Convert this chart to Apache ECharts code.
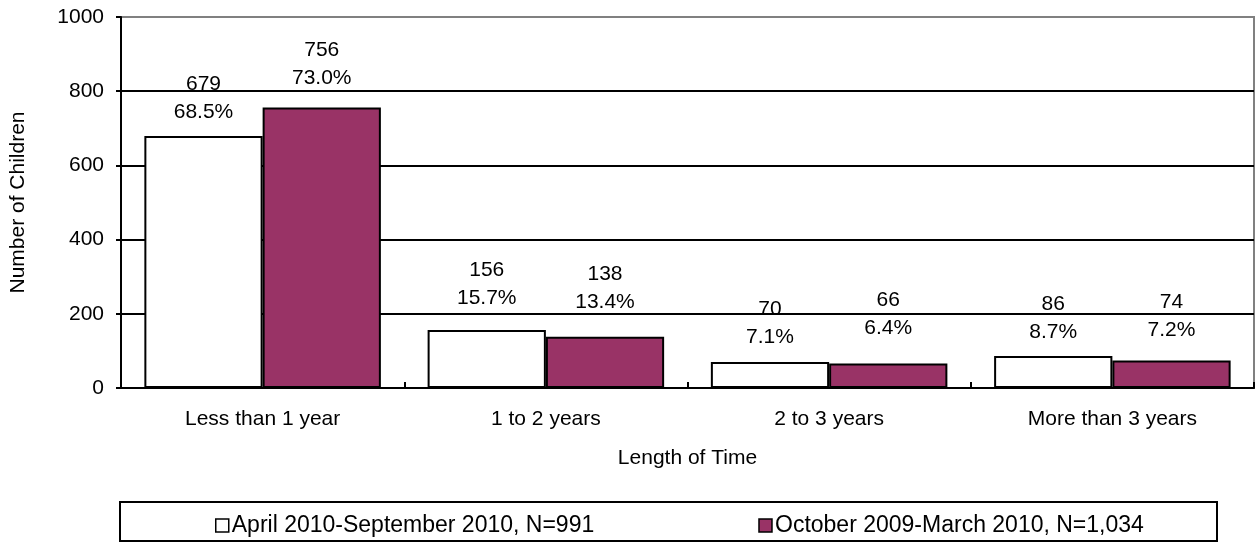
<!DOCTYPE html>
<html>
<head>
<meta charset="utf-8">
<script src="https://cdn.jsdelivr.net/npm/echarts@6/dist/echarts.min.js"></script>
<style>
  html, body { margin: 0; padding: 0; background: #fff; }
  #chart { width: 1256px; height: 542px; }
</style>
</head>
<body>
<div id="chart"></div>
<script>
// Length of time categories
const categories = ['Less than 1 year', '1 to 2 years', '2 to 3 years', 'More than 3 years'];

// Counts of children per period
const april2010Counts = [679, 156, 70, 86];
const oct2009Counts = [756, 138, 66, 74];

// Share of each period's total, in percent
const april2010Pct = [68.5, 15.7, 7.1, 8.7];
const oct2009Pct = [73.0, 13.4, 6.4, 7.2];

const seriesNames = ['April 2010-September 2010, N=991', 'October 2009-March 2010, N=1,034'];
const yTicks = [0, 200, 400, 600, 800, 1000];

// Distance between each bar top and its two-line label
const aprilLabelLift = [10, 18, 11, 10];
const octLabelLift = [15, 21, 21, 16];

const FONT = '"Liberation Sans", Arial, sans-serif';
const MAROON = '#993366';
const FS = 21;

function buildSeries(name, counts, pcts, lifts, fill) {
  return {
    name: name,
    type: 'bar',
    barGap: '0%',
    barCategoryGap: '16.5%',
    itemStyle: { color: fill, borderColor: '#000', borderWidth: 2 },
    data: counts.map((v, i) => ({
      value: v,
      label: { distance: lifts[i] }
    })),
    label: {
      show: true,
      position: 'top',
      color: '#000',
      fontFamily: FONT,
      fontSize: FS,
      lineHeight: 28,
      formatter: p => p.value + '\n' + pcts[p.dataIndex].toFixed(1) + '%'
    },
    emphasis: { disabled: true }
  };
}

const chart = echarts.init(document.getElementById('chart'), null, { renderer: 'canvas' });

chart.setOption({
  animation: false,
  backgroundColor: '#fff',
  textStyle: { fontFamily: FONT, color: '#000' },
  grid: {
    left: 120, right: 2, top: 17, bottom: 154,
    show: true, borderColor: '#808080', borderWidth: 2, backgroundColor: 'transparent'
  },
  xAxis: {
    type: 'category',
    data: categories,
    name: 'Length of Time',
    nameLocation: 'middle',
    nameGap: 60,
    nameTextStyle: { fontSize: FS, color: '#000', fontFamily: FONT },
    axisLine: { lineStyle: { color: '#000', width: 2 } },
    axisTick: { show: true, inside: true, length: 6, lineStyle: { color: '#000', width: 2 } },
    axisLabel: { fontSize: FS, color: '#000', margin: 21, fontFamily: FONT }
  },
  yAxis: {
    type: 'value',
    min: yTicks[0],
    max: yTicks[yTicks.length - 1],
    interval: yTicks[1] - yTicks[0],
    name: 'Number of Children',
    nameLocation: 'middle',
    nameGap: 92,
    nameTextStyle: { fontSize: FS, color: '#000', fontFamily: FONT },
    axisLine: { show: true, lineStyle: { color: '#000', width: 2 } },
    axisTick: { show: true, length: 5, lineStyle: { color: '#000', width: 2 } },
    axisLabel: {
      fontSize: FS, color: '#000', margin: 17, fontFamily: FONT,
      formatter: v => String(v)
    },
    splitLine: {
      show: true,
      lineStyle: { color: ['#000', '#000', '#000', '#000', '#000', '#808080'], width: 2 }
    }
  },
  legend: {
    left: 210,
    top: 509,
    itemWidth: 13,
    itemHeight: 13,
    itemGap: 164,
    icon: 'rect',
    textStyle: { fontSize: 23, color: '#000', fontFamily: FONT, padding: [0, 0, 0, -2] },
    itemStyle: { borderColor: '#000', borderWidth: 1.5 },
    data: seriesNames
  },
  graphic: [{
    type: 'rect',
    shape: { x: 120, y: 502, width: 1097, height: 39 },
    style: { fill: 'none', stroke: '#000', lineWidth: 2 },
    silent: true
  }],
  series: [
    buildSeries(seriesNames[0], april2010Counts, april2010Pct, aprilLabelLift, '#fff'),
    buildSeries(seriesNames[1], oct2009Counts, oct2009Pct, octLabelLift, MAROON)
  ]
});
</script>
</body>
</html>
